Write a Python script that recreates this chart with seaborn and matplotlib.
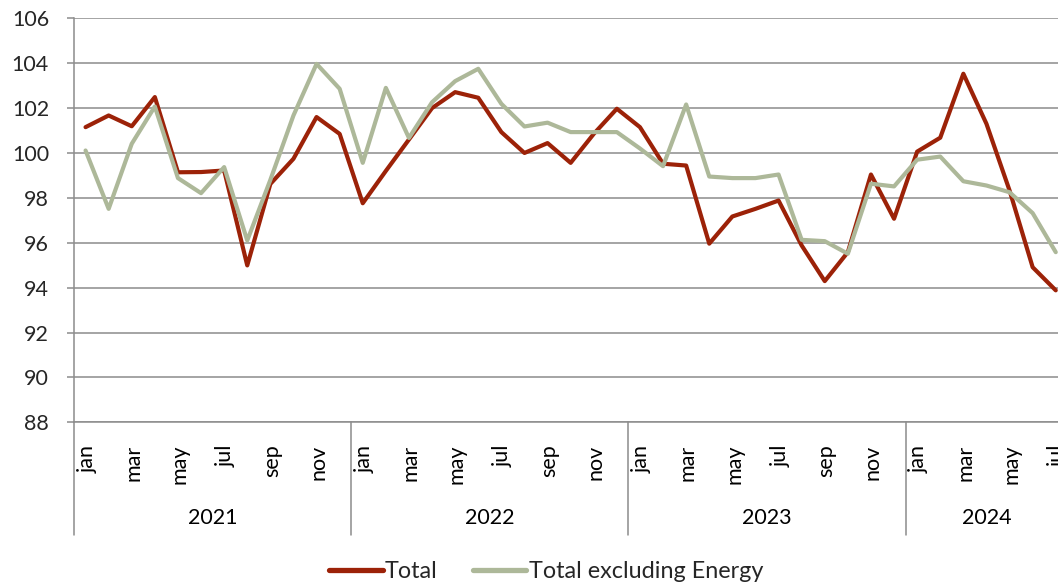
import pandas as pd
import matplotlib
matplotlib.use("Agg")
import matplotlib.pyplot as plt
import matplotlib.transforms as mtransforms
import seaborn as sns

# monthly index values, jan 2021 - jul 2024
years = ["2021", "2022", "2023", "2024"]
month_names = ["jan", "feb", "mar", "apr", "may", "jun",
               "jul", "aug", "sep", "oct", "nov", "dec"]
total = [101.15, 101.67, 101.19, 102.49, 99.14, 99.15, 99.22, 94.99, 98.62, 99.74, 101.6, 100.85,
         97.76, 99.2, 100.6, 102.0, 102.71, 102.46, 100.93, 100.0, 100.44, 99.56, 100.85, 101.97,
         101.15, 99.52, 99.44, 95.96, 97.17, 97.51, 97.88, 95.88, 94.29, 95.58, 99.04, 97.07,
         100.06, 100.68, 103.53, 101.3, 98.33, 94.91, 93.88]
total_ex_energy = [100.11, 97.51, 100.41, 102.07, 98.88, 98.21, 99.37, 96.1, 98.8, 101.67, 103.97, 102.86,
                   99.56, 102.9, 100.67, 102.26, 103.2, 103.75, 102.19, 101.18, 101.35, 100.93, 100.93, 100.93,
                   100.2, 99.41, 102.16, 98.95, 98.88, 98.88, 99.04, 96.13, 96.07, 95.51, 98.63, 98.51,
                   99.7, 99.84, 98.74, 98.55, 98.25, 97.32, 95.58]

n = len(total)
months = [month_names[i % 12] for i in range(n)]
df = pd.DataFrame({
    "idx": list(range(n)) * 2,
    "value": total + total_ex_energy,
    "series": ["Total"] * n + ["Total excluding Energy"] * n,
})

sns.set_theme(style="white")
plt.rcParams["font.family"] = ["Lato", "DejaVu Sans"]

fig = plt.figure(figsize=(10.58, 5.87), dpi=100)
ax = fig.add_axes([74 / 1058, 1 - 422.3 / 587, 993.3 / 1058, 404 / 587])

grid_col = "#8c8c8c"
palette = {"Total": "#9c2208", "Total excluding Energy": "#adb899"}
sns.lineplot(data=df, x="idx", y="value", hue="series", palette=palette,
             linewidth=3.0, ax=ax, legend=True)

ax.set_xlim(-0.5, n - 0.5)
ax.set_ylim(88, 106)
ax.set_yticks(range(88, 107, 2))
ax.yaxis.grid(True, color=grid_col, linewidth=1.1)
ax.set_axisbelow(True)
ax.set_xlabel("")
ax.set_ylabel("")
for s in ["top", "right"]:
    ax.spines[s].set_visible(False)
for s in ["left", "bottom"]:
    ax.spines[s].set_color(grid_col)
    ax.spines[s].set_linewidth(1.1)
ax.tick_params(axis="y", length=5, width=1.1, color=grid_col, labelsize=15.5, pad=13, left=True)
ax.tick_params(axis="x", bottom=False, labelbottom=False)

# month labels (every second month) and year groups
trans = mtransforms.blended_transform_factory(ax.transData, ax.transAxes)
for i in range(0, n, 2):
    ax.text(i + 0.08, -0.055, months[i], transform=trans, rotation=90, ha="center", va="top",
            fontsize=15.5, color="black")
for k, yr in enumerate(years):
    start = k * 12 - 0.5
    end = min(start + 12, n - 0.5)
    ax.text((start + end) / 2, -0.237, yr, transform=trans, ha="center", va="center",
            fontsize=15.5, color="black")
    ax.plot([start, start], [0, -0.28], transform=trans, color=grid_col,
            linewidth=1.1, clip_on=False)

handles, labels = ax.get_legend_handles_labels()
leg = ax.legend(handles, labels, loc="center", bbox_to_anchor=(0.516, 0.026),
                bbox_transform=fig.transFigure, ncol=2, frameon=False, fontsize=16.8,
                handlelength=2.3, handletextpad=0.1, columnspacing=1.5)
for h in leg.get_lines():
    h.set_linewidth(3.8)

fig.savefig("out.png", dpi=100)
